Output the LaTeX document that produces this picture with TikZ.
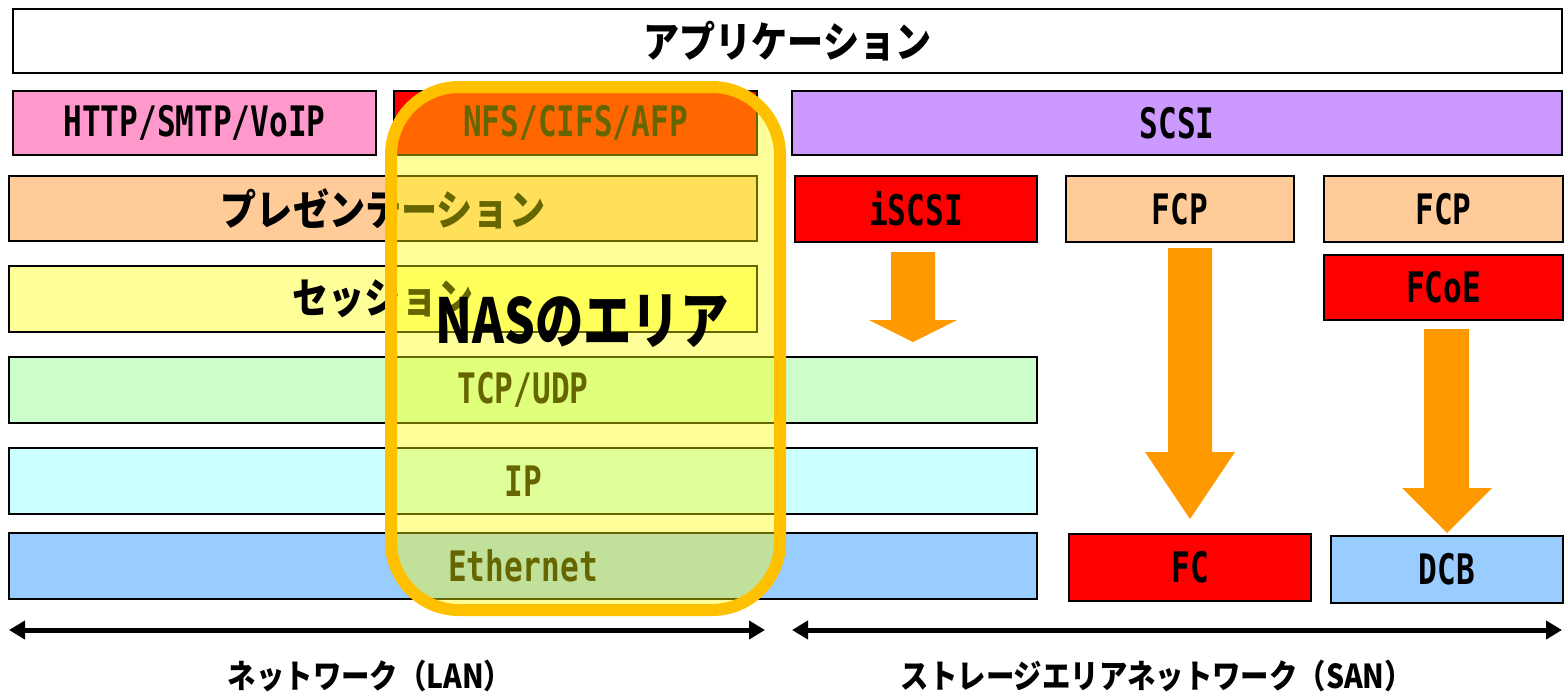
\documentclass[tikz,border=0pt]{standalone}
\usepackage{fontspec}
\usetikzlibrary{arrows.meta}
\newfontfamily\jpfont[FakeStretch=0.86]{Noto Sans CJK JP}
\newfontfamily\nasfont[FakeStretch=0.78]{Noto Sans CJK JP}
\newfontfamily\latfont[FakeStretch=0.74]{DejaVu Sans Mono}
\definecolor{cpink}{HTML}{FF99CC}
\definecolor{cred}{HTML}{FF0000}
\definecolor{cviolet}{HTML}{CC99FF}
\definecolor{cpeach}{HTML}{FFCC99}
\definecolor{cyel}{HTML}{FFFF99}
\definecolor{cgreen}{HTML}{CCFFCC}
\definecolor{ccyan}{HTML}{CCFFFF}
\definecolor{cblue}{HTML}{99CCFF}
\definecolor{corange}{HTML}{FF9900}
\definecolor{cgold}{HTML}{FFC000}
\definecolor{covl}{HTML}{FFFF00}
\begin{document}
\begin{tikzpicture}[x=0.5pt,y=-0.5pt,
  box/.style={draw=black, line width=1pt, inner sep=0pt, minimum height=32.5pt},
  jpt/.style={font={\jpfont\bfseries\fontsize{21pt}{25pt}\selectfont}},
  ltt/.style={font={\latfont\bfseries\fontsize{21pt}{25pt}\selectfont}},
  lbl/.style={font={\jpfont\bfseries\fontsize{16.5pt}{20pt}\selectfont}, inner sep=0pt},
  blockarrow/.style={fill=corange, draw=none},
  span/.style={line width=2.5pt, {Triangle[length=8pt,width=9pt]}-{Triangle[length=8pt,width=9pt]}}
]
\useasboundingbox (0,0) rectangle (1564,691);
% layers
\node[box, fill=white, minimum width=774.5pt, minimum height=32pt, jpt] (app) at (787.5,41) {アプリケーション};
\node[box, fill=cpink, minimum width=181.5pt, minimum height=32pt, ltt] (http) at (194.5,123) {HTTP/SMTP/VoIP};
\node[box, fill=cred, minimum width=181.5pt, minimum height=32pt, ltt] (nfs) at (575.5,123) {NFS/CIFS/AFP};
\node[box, fill=cviolet, minimum width=385pt, minimum height=32pt, ltt] (scsi) at (1177,123) {SCSI};
\node[box, fill=cpeach, minimum width=374pt, jpt] (pres) at (383,208.5) {プレゼンテーション};
\node[box, fill=cyel, minimum width=374pt, minimum height=33pt, jpt] (sess) at (383,299) {セッション};
\node[box, fill=cgreen, minimum width=514pt, minimum height=33pt, ltt] (tcp) at (523,390) {TCP/UDP};
\node[box, fill=ccyan, minimum width=514pt, minimum height=33pt, ltt] (ip) at (523,481) {IP};
\node[box, fill=cblue, minimum width=514pt, minimum height=33pt, ltt] (eth) at (523,566) {Ethernet};
\node[box, fill=cred, minimum width=121pt, minimum height=33pt, ltt] (iscsi) at (916,209) {iSCSI};
\node[box, fill=cpeach, minimum width=114pt, minimum height=33pt, ltt] (fcpa) at (1180,209) {FCP};
\node[box, fill=cpeach, minimum width=119.5pt, minimum height=33pt, ltt] (fcpb) at (1443.5,209) {FCP};
\node[box, fill=cred, minimum width=119.5pt, minimum height=32.5pt, ltt] (fcoe) at (1443.5,287.5) {FCoE};
\node[box, fill=cred, minimum width=121pt, minimum height=33.5pt, ltt] (fc) at (1190,567.5) {FC};
\node[box, fill=cblue, minimum width=116pt, minimum height=33.5pt, ltt] (dcb) at (1447,569.5) {DCB};
% block arrows
\fill[blockarrow] (891,252) -- (935,252) -- (935,320) -- (957,320) -- (913,342) -- (869,320) -- (891,320) -- cycle;
\fill[blockarrow] (1168,248) -- (1212,248) -- (1212,452) -- (1235,452) -- (1190,519) -- (1145,452) -- (1168,452) -- cycle;
\fill[blockarrow] (1424,329) -- (1469,329) -- (1469,488) -- (1492,488) -- (1447,533) -- (1402,488) -- (1424,488) -- cycle;
% NAS area overlay
\draw[draw=cgold, line width=6pt, fill=covl, fill opacity=0.4, rounded corners=34pt] (391,87) rectangle (780,610);
\node[font={\nasfont\bfseries\fontsize{31pt}{36pt}\selectfont}, inner sep=0pt] (nas) at (582,321) {NASのエリア};
% spans
\coordinate (lanL) at (9,630);
\coordinate (lanR) at (765,630);
\coordinate (sanL) at (792,630);
\coordinate (sanR) at (1562,630);
\draw[span] (lanL) -- (lanR);
\draw[span] (sanL) -- (sanR);
\node[lbl] (lan) at (370,676) {ネットワーク（LAN）};
\node[lbl] (san) at (1157,676) {ストレージエリアネットワーク（SAN）};
\end{tikzpicture}
\end{document}
